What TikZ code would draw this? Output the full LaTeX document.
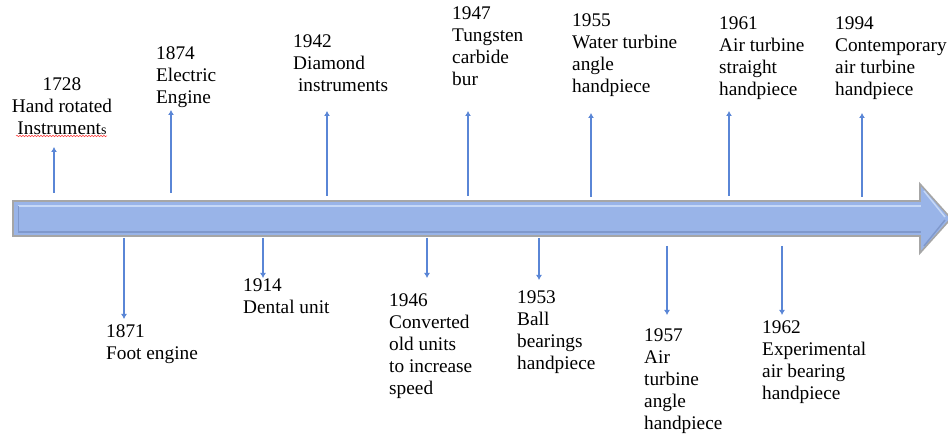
\documentclass[tikz,border=0pt]{standalone}
\usepackage{fontspec}
\setmainfont{Liberation Serif}
\newfontfamily\timesface{Liberation Serif}
\usepackage{tikz}
\usetikzlibrary{arrows.meta}
\usetikzlibrary{decorations.pathmorphing}
\definecolor{barblue}{HTML}{99B4E8}
\definecolor{barlight}{HTML}{C6D8F6}
\definecolor{bardark}{HTML}{8099CC}
\definecolor{barrim}{HTML}{A6A6A6}
\definecolor{tickblue}{HTML}{5A86D6}
\newcommand{\yearfont}{\timesface\fontsize{19.3}{22}\selectfont}
\newcommand{\smalls}{{\fontsize{14}{14}\selectfont s}}
\tikzset{
  yeararrow/.style={draw=tickblue, line width=1.1pt, -{Latex[length=5pt,width=6pt]}},
  yearlabel/.style={font=\yearfont, align=left, anchor=north west, inner sep=0pt}
}

\begin{document}
\begin{tikzpicture}[x=1pt,y=-1pt]
\useasboundingbox (0,0) rectangle (948,435);
\draw[barrim, line width=1.6pt, fill=barblue] (13,201) -- (920,201) -- (920,184) -- (951,218.5) -- (920,253) -- (920,236) -- (13,236) -- cycle;
\draw[barlight, line width=2pt] (18,206) -- (921,206);
\draw[barlight, line width=1.5pt] (924,191) -- (945,217);
\draw[bardark, line width=1.5pt] (18,232) -- (921,232);
\draw[bardark, line width=1.5pt] (945,220) -- (924,246);
\draw[bardark, line width=1pt] (18,206) -- (18,232);

\node[yearlabel, align=center, anchor=north] (y1728) at (62,77) {1728\\Hand rotated\\Instrument\smalls};
\draw[red!80, line width=0.5pt, decorate, decoration={snake, segment length=3pt, amplitude=0.7pt}] (16,136) -- (107,136);
\node[yearlabel] (y1874) at (156,46) {1874\\Electric\\Engine};
\node[yearlabel] (y1942) at (293,35) {1942\\Diamond\\\ instruments};
\node[yearlabel] (y1947) at (452,7) {1947\\Tungsten\\carbide\\bur};
\node[yearlabel] (y1955) at (572,14) {1955\\Water turbine\\angle\\handpiece};
\node[yearlabel] (y1961) at (719,17) {1961\\Air turbine\\straight\\handpiece};
\node[yearlabel] (y1994) at (835,17) {1994\\Contemporary\\air turbine\\handpiece};

\node[yearlabel] (y1871) at (106,324) {1871\\Foot engine};
\node[yearlabel] (y1914) at (243,279) {1914\\Dental unit};
\node[yearlabel] (y1946) at (389,294) {1946\\Converted\\old units\\to increase\\speed};
\node[yearlabel] (y1953) at (517,291) {1953\\Ball\\bearings\\handpiece};
\node[yearlabel] (y1957) at (644,329) {1957\\Air\\turbine\\angle\\handpiece};
\node[yearlabel] (y1962) at (762,321) {1962\\Experimental\\air bearing\\handpiece};

\coordinate (b1728) at (54,193); \coordinate (t1728) at (54,147);
\coordinate (b1874) at (171,193); \coordinate (t1874) at (171,110);
\coordinate (b1942) at (327,196); \coordinate (t1942) at (327,111);
\coordinate (b1947) at (468,196); \coordinate (t1947) at (468,111);
\coordinate (b1955) at (591,197); \coordinate (t1955) at (591,113);
\coordinate (b1961) at (729,196); \coordinate (t1961) at (729,111);
\coordinate (b1994) at (862,197); \coordinate (t1994) at (862,113);
\coordinate (b1871) at (124,238); \coordinate (t1871) at (124,319);
\coordinate (b1914) at (263,238); \coordinate (t1914) at (263,278);
\coordinate (b1946) at (427,238); \coordinate (t1946) at (427,278);
\coordinate (b1953) at (539,238); \coordinate (t1953) at (539,280);
\coordinate (b1957) at (667,246); \coordinate (t1957) at (667,315);
\coordinate (b1962) at (782,246); \coordinate (t1962) at (782,315);

\draw[yeararrow] (b1728) -- (t1728);
\draw[yeararrow] (b1874) -- (t1874);
\draw[yeararrow] (b1942) -- (t1942);
\draw[yeararrow] (b1947) -- (t1947);
\draw[yeararrow] (b1955) -- (t1955);
\draw[yeararrow] (b1961) -- (t1961);
\draw[yeararrow] (b1994) -- (t1994);
\draw[yeararrow] (b1871) -- (t1871);
\draw[yeararrow] (b1914) -- (t1914);
\draw[yeararrow] (b1946) -- (t1946);
\draw[yeararrow] (b1953) -- (t1953);
\draw[yeararrow] (b1957) -- (t1957);
\draw[yeararrow] (b1962) -- (t1962);
\end{tikzpicture}
\end{document}
